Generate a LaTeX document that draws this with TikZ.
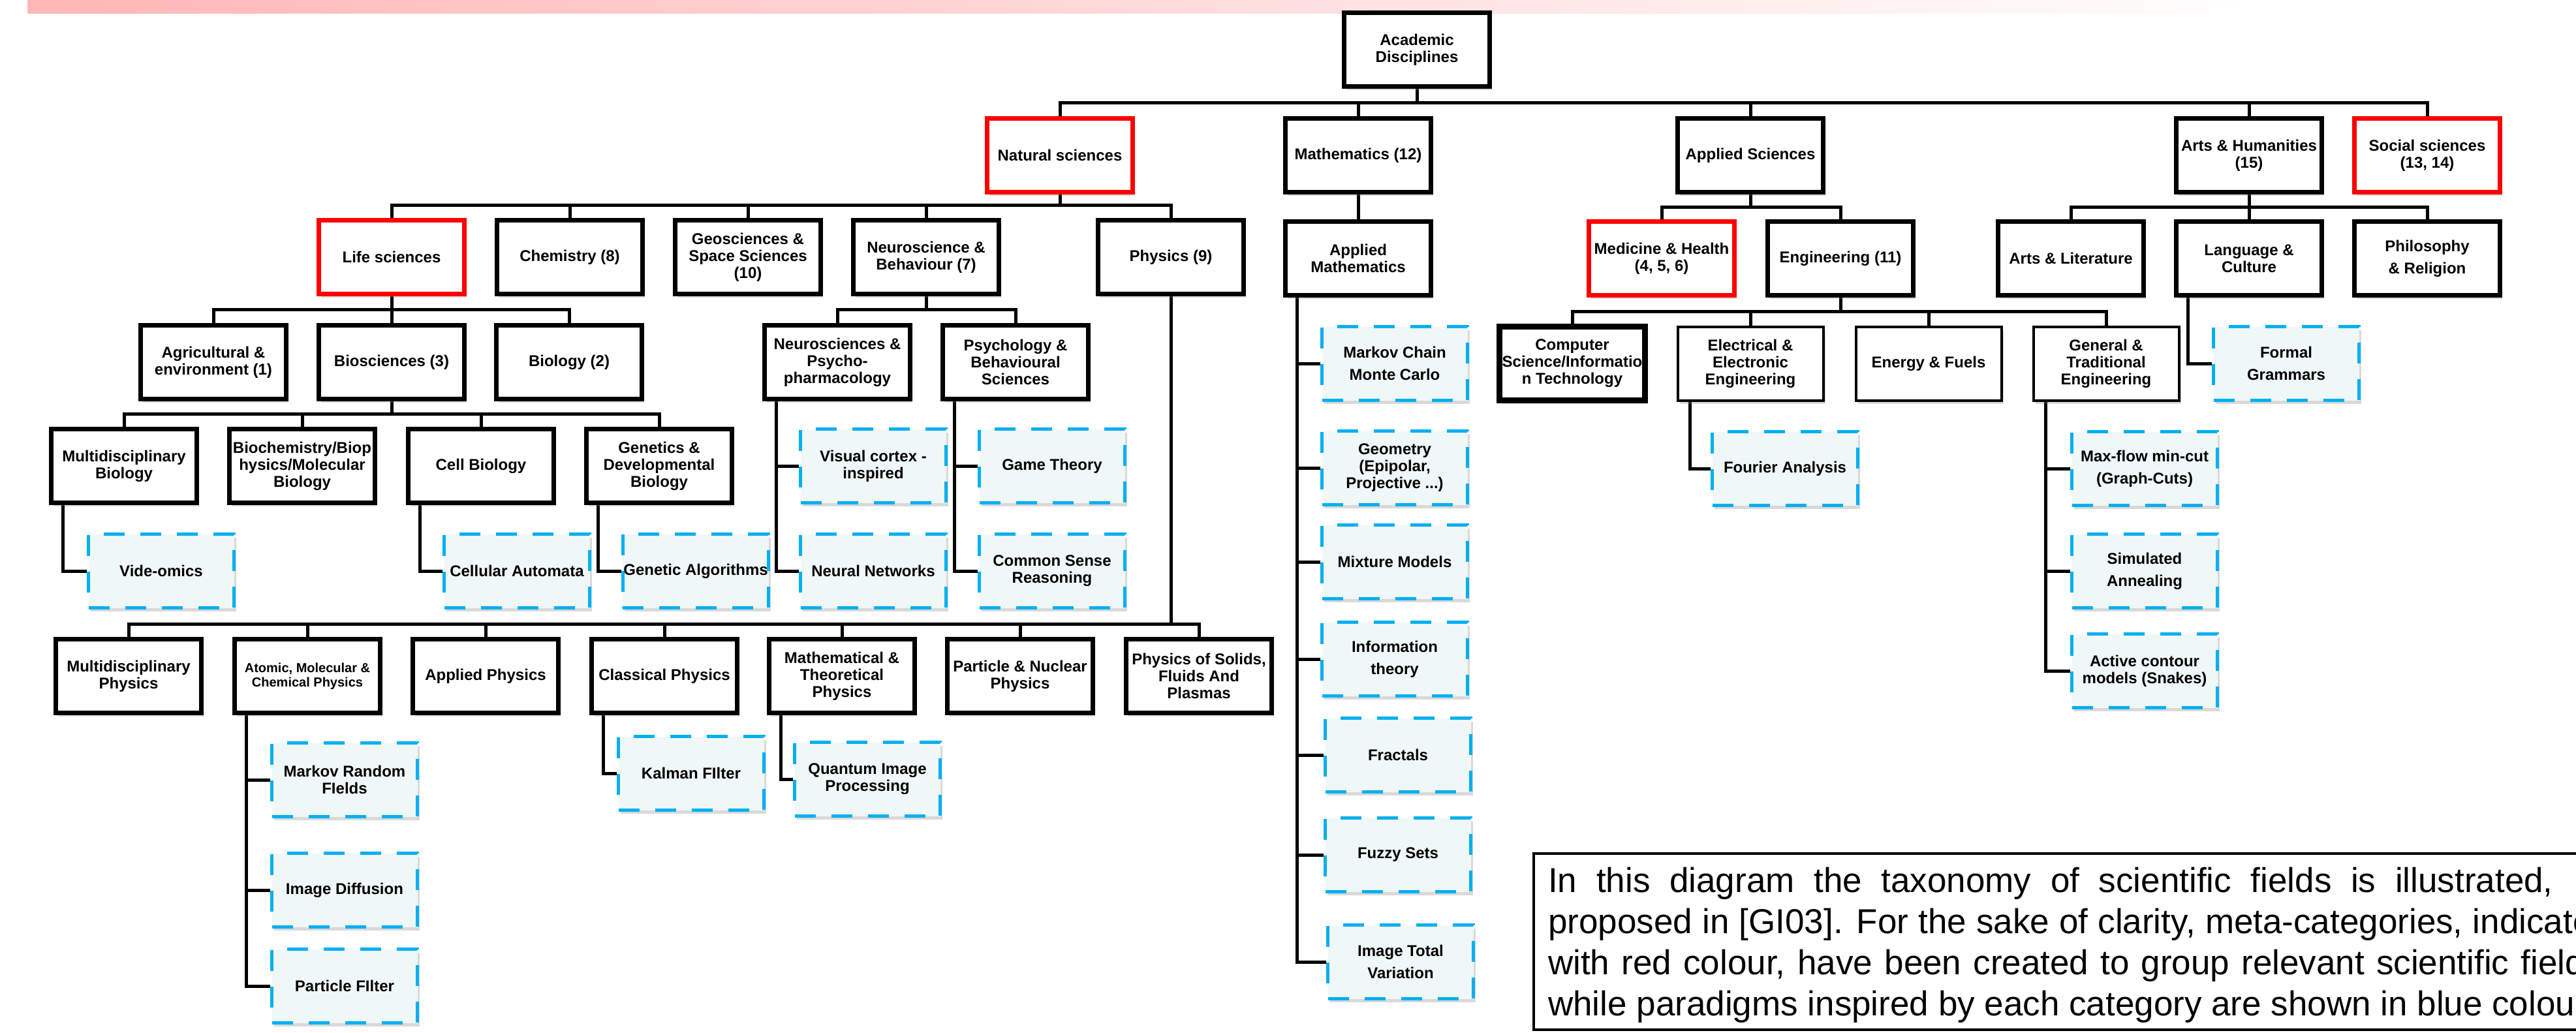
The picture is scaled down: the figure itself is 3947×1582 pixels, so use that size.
\documentclass[tikz,border=0pt]{standalone}
\usepackage{fontspec}
\setmainfont{Liberation Sans}
\usetikzlibrary{shadows,backgrounds}

\definecolor{paraBlue}{RGB}{0,176,240}
\definecolor{paraFill}{RGB}{240,247,247}
\definecolor{bandPink}{RGB}{255,182,182}

\tikzset{
  field/.style={draw=black, line width=7pt, fill=white, minimum width=223pt, minimum height=113pt,
    inner sep=1pt, align=center, font=\fontsize{24}{26}\selectfont\bfseries,
    drop shadow={shadow xshift=3pt, shadow yshift=-5pt, opacity=.3}},
  meta/.style={field, draw=red},
  thinfield/.style={field, line width=4pt},
  paradigm/.style={field, draw=paraBlue, fill=paraFill, line width=5pt, dash pattern=on 32pt off 24pt},
  wide/.style={font=\fontsize{24}{34}\selectfont\bfseries},
  link/.style={line width=5pt, black},
  note/.style={align=left, inner sep=0pt, font=\fontsize{53}{63}\selectfont}
}

\begin{document}
\begin{tikzpicture}[x=1pt, y=-1pt]
\useasboundingbox (0,0) rectangle (3947,1582);
\clip (0,0) rectangle (3947,1582);
%\draw[gray,very thin] (0,0) grid[step=100] (3947,1582);
\shade[left color=bandPink, right color=white] (42,0) rectangle (3500,20);

% top levels
\node[field] (acad) at (2171,76) {Academic\\Disciplines};
\node[meta] (nat) at (1624,238) {Natural sciences};
\node[field] (math) at (2081,238) {Mathematics (12)};
\node[field] (appl) at (2682,238) {Applied Sciences};
\node[field] (arts) at (3446,238) {Arts \& Humanities\\(15)};
\node[meta] (soc) at (3719,238) {Social sciences\\(13, 14)};

\node[meta] (life) at (600,394) {Life sciences};
\node[field] (chem) at (873,394) {Chemistry (8)};
\node[field] (geo) at (1146,394) {Geosciences \&\\Space Sciences\\(10)};
\node[field] (neuro) at (1419,394) {Neuroscience \&\\Behaviour (7)};
\node[field] (phys) at (1794,394) {Physics (9)};
\node[field] (amath) at (2081,396) {Applied\\Mathematics};
\node[meta] (med) at (2546,396) {Medicine \& Health\\(4, 5, 6)};
\node[field] (eng) at (2820,396) {Engineering (11)};
\node[field] (artlit) at (3173,396) {Arts \& Literature};
\node[field] (lang) at (3446,396) {Language \&\\Culture};
\node[field,wide] (phil) at (3719,396) {Philosophy\\\& Religion};

\node[field] (agri) at (327,555) {Agricultural \&\\environment (1)};
\node[field] (bio) at (600,555) {Biosciences (3)};
\node[field] (biol) at (872,555) {Biology (2)};
\node[field] (nspsy) at (1283,555) {Neurosciences \&\\Psycho-\\pharmacology};
\node[field] (psy) at (1556,555) {Psychology \&\\Behavioural\\Sciences};
\node[field, line width=9pt] (cs) at (2409,557) {Computer\\Science/Informatio\\n Technology};
\node[thinfield] (elec) at (2682,557) {Electrical \&\\Electronic\\Engineering};
\node[thinfield] (energy) at (2955,557) {Energy \& Fuels};
\node[thinfield] (gen) at (3227,557) {General \&\\Traditional\\Engineering};

\node[field] (mbio) at (190,714) {Multidisciplinary\\Biology};
\node[field] (biochem) at (463,714) {Biochemistry/Biop\\hysics/Molecular\\Biology};
\node[field] (cell) at (737,714) {Cell Biology};
\node[field] (gene) at (1010,714) {Genetics \&\\Developmental\\Biology};

% physics branch
\node[field] (mphys) at (197,1036) {Multidisciplinary\\Physics};
\node[field, font=\fontsize{20}{22}\selectfont\bfseries] (atomic) at (471,1036) {Atomic, Molecular \&\\Chemical Physics};
\node[field] (aphys) at (744,1036) {Applied Physics};
\node[field] (classical) at (1018,1036) {Classical Physics};
\node[field] (mathphys) at (1290,1036) {Mathematical \&\\Theoretical\\Physics};
\node[field] (partnuc) at (1563,1036) {Particle \& Nuclear\\Physics};
\node[field] (solids) at (1837,1036) {Physics of Solids,\\Fluids And\\Plasmas};

% paradigms
\node[paradigm] (videomics) at (247,875) {Vide-omics};
\node[paradigm] (cellaut) at (792,875) {Cellular Automata};
\node[paradigm] (genalg) at (1066,875) {Genetic Algorithms};
\node[paradigm] (viscortex) at (1338,714) {Visual cortex -\\inspired};
\node[paradigm] (neuralnet) at (1338,875) {Neural Networks};
\node[paradigm] (gametheory) at (1612,714) {Game Theory};
\node[paradigm] (commonsense) at (1612,875) {Common Sense\\Reasoning};
\node[paradigm,wide] (mcmc) at (2137,557) {Markov Chain\\Monte Carlo};
\node[paradigm] (geometry) at (2137,717) {Geometry\\(Epipolar,\\Projective ...)};
\node[paradigm] (mixture) at (2137,861) {Mixture Models};
\node[paradigm,wide] (infotheory) at (2137,1010) {Information\\theory};
\node[paradigm] (fractals) at (2142,1157) {Fractals};
\node[paradigm] (fuzzy) at (2142,1310) {Fuzzy Sets};
\node[paradigm,wide] (imtv) at (2146,1474) {Image Total\\Variation};
\node[paradigm] (fourier) at (2735,718) {Fourier Analysis};
\node[paradigm,wide] (maxflow) at (3286,718) {Max-flow min-cut\\(Graph-Cuts)};
\node[paradigm,wide] (simann) at (3286,875) {Simulated\\Annealing};
\node[paradigm] (activecont) at (3286,1028) {Active contour\\models (Snakes)};
\node[paradigm,wide] (formal) at (3503,557) {Formal\\Grammars};
\node[paradigm] (mrf) at (528,1195) {Markov Random\\FIelds};
\node[paradigm] (imdiff) at (528,1364) {Image Diffusion};
\node[paradigm] (pfilter) at (528,1511) {Particle FIlter};
\node[paradigm] (kalman) at (1059,1185) {Kalman FIlter};
\node[paradigm] (quantum) at (1329,1194) {Quantum Image\\Processing};

% connectors
\begin{scope}[on background layer]
\coordinate (acadbar) at (acad.south |- 0,157);
\coordinate (natbar) at (nat.south |- 0,314);
\coordinate (applbar) at (appl.south |- 0,317);
\coordinate (artsbar) at (arts.south |- 0,317);
\coordinate (lifebar) at (life.south |- 0,474);
\coordinate (neurobar) at (neuro.south |- 0,474);
\coordinate (engbar) at (eng.south |- 0,477);
\coordinate (biobar) at (bio.south |- 0,634);
\coordinate (physbar) at (phys.south |- 0,956);
\foreach \p/\c in {acad/nat,acad/math,acad/appl,acad/arts,acad/soc,
    nat/life,nat/chem,nat/geo,nat/neuro,nat/phys,appl/med,appl/eng,
    arts/artlit,arts/lang,arts/phil,life/agri,life/bio,life/biol,
    neuro/nspsy,neuro/psy,eng/cs,eng/elec,eng/energy,eng/gen,
    bio/mbio,bio/biochem,bio/cell,bio/gene,
    phys/mphys,phys/atomic,phys/aphys,phys/classical,phys/mathphys,phys/partnuc,phys/solids}
  \draw[link] (\p.south) -- (\p bar) -| (\c.north);
\draw[link] (math.south) -- (amath.north);
\foreach \p/\c in {mbio/videomics,cell/cellaut,gene/genalg,nspsy/viscortex,nspsy/neuralnet,
    psy/gametheory,psy/commonsense,amath/mcmc,amath/geometry,amath/mixture,amath/infotheory,
    amath/fractals,amath/fuzzy,amath/imtv,elec/fourier,gen/maxflow,gen/simann,gen/activecont,
    lang/formal,atomic/mrf,atomic/imdiff,atomic/pfilter,classical/kalman,mathphys/quantum}
  \draw[link] ([xshift=21pt]\p.south west) |- (\c.west);
\end{scope}

% caption
\draw[line width=4pt] (2350,1308) rectangle (4040,1578);
\node[note, anchor=north west] (caption) at (2372,1329) {%
\makebox[1629pt][s]{In this diagram the taxonomy of scientific fields is illustrated, as}\\
\makebox[1629pt][s]{proposed in [GI03]. For the sake of clarity, meta-categories, indicated}\\
\makebox[1629pt][s]{with red colour, have been created to group relevant scientific fields,}\\
while paradigms inspired by each category are shown in blue colour.};
\end{tikzpicture}
\end{document}
